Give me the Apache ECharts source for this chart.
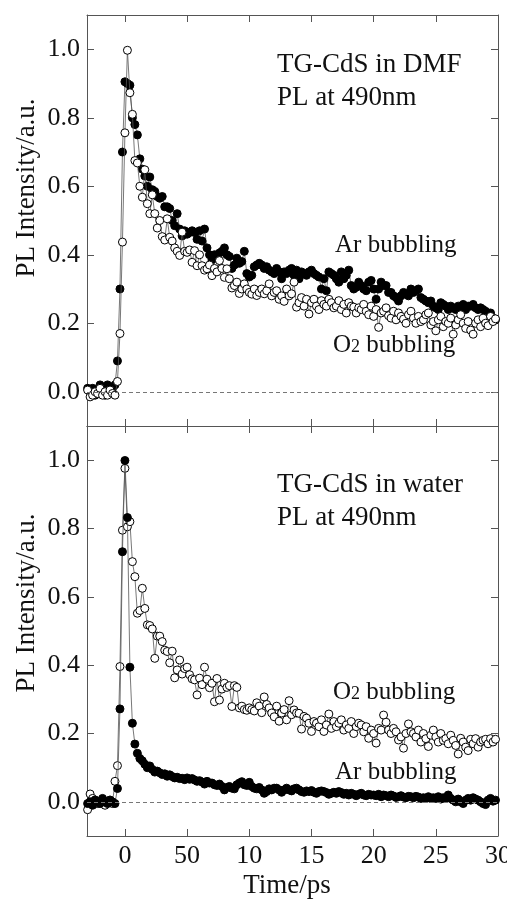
<!DOCTYPE html>
<html>
<head>
<meta charset="utf-8">
<script src="https://cdn.jsdelivr.net/npm/echarts@6/dist/echarts.min.js"></script>
<style>
html,body{margin:0;padding:0;background:#fff;}
#chart{width:507px;height:901px;}
</style>
</head>
<body>
<div id="chart"></div>
<script>
// Time axis (ps), shared by all four series
const timePs = [
  -3.0,-2.8,-2.6,-2.4,-2.2,-2.0,-1.8,-1.6,-1.4,-1.2,-1.0,-0.8,-0.6,-0.4,-0.2,
  0.0,0.2,0.4,0.6,0.8, 1.0,1.2,1.4,1.6,1.8, 2.0,2.2,2.4,2.6,2.8, 3.0,3.2,3.4,3.6,3.8,
  4.0,4.2,4.4,4.6,4.8, 5.0,5.2,5.4,5.6,5.8, 6.0,6.2,6.4,6.6,6.8, 7.0,7.2,7.4,7.6,7.8,
  8.0,8.2,8.4,8.6,8.8, 9.0,9.2,9.4,9.6,9.8, 10.0,10.2,10.4,10.6,10.8, 11.0,11.2,11.4,11.6,11.8,
  12.0,12.2,12.4,12.6,12.8, 13.0,13.2,13.4,13.6,13.8, 14.0,14.2,14.4,14.6,14.8, 15.0,15.2,15.4,15.6,15.8,
  16.0,16.2,16.4,16.6,16.8, 17.0,17.2,17.4,17.6,17.8, 18.0,18.2,18.4,18.6,18.8, 19.0,19.2,19.4,19.6,19.8,
  20.0,20.2,20.4,20.6,20.8, 21.0,21.2,21.4,21.6,21.8, 22.0,22.2,22.4,22.6,22.8, 23.0,23.2,23.4,23.6,23.8,
  24.0,24.2,24.4,24.6,24.8, 25.0,25.2,25.4,25.6,25.8, 26.0,26.2,26.4,26.6,26.8, 27.0,27.2,27.4,27.6,27.8,
  28.0,28.2,28.4,28.6,28.8, 29.0,29.2,29.4,29.6,29.8
];

// Top panel: TG-CdS in DMF
const dmfAr = [
  0.01,0.00,0.01,-0.01,0.00,0.02,0.01,-0.01,0.02,0.00,0.01,0.02,0.09,0.30,0.70,
  0.905,0.90,0.895,0.80,0.78, 0.75,0.68,0.65,0.63,0.60, 0.627,0.59,0.585,0.57,0.565, 0.57,0.54,0.54,0.535,0.50,
  0.485,0.52,0.475,0.455,0.47, 0.46,0.465,0.47,0.465,0.445, 0.47,0.44,0.475,0.42,0.40, 0.385,0.40,0.395,0.405,0.41,
  0.42,0.40,0.395,0.36,0.37, 0.39,0.375,0.38,0.41,0.345, 0.335,0.34,0.365,0.37,0.375, 0.37,0.36,0.365,0.355,0.35,
  0.345,0.36,0.35,0.33,0.35, 0.345,0.355,0.36,0.34,0.355, 0.33,0.35,0.345,0.34,0.35, 0.355,0.345,0.34,0.335,0.30,
  0.33,0.295,0.35,0.345,0.34, 0.33,0.32,0.35,0.33,0.34, 0.355,0.31,0.30,0.305,0.32, 0.31,0.30,0.295,0.32,0.325,
  0.30,0.27,0.30,0.32,0.31, 0.31,0.29,0.29,0.28,0.275, 0.265,0.28,0.29,0.285,0.28, 0.30,0.29,0.295,0.30,0.275,
  0.27,0.265,0.26,0.265,0.25, 0.245,0.24,0.26,0.255,0.25, 0.24,0.25,0.245,0.24,0.25, 0.245,0.255,0.24,0.25,0.25,
  0.255,0.245,0.24,0.245,0.24, 0.235,0.22,0.23,0.215,0.21
];
const dmfO2 = [
  0.005,-0.015,-0.01,0.00,-0.005,0.01,-0.01,0.00,-0.01,0.005,-0.005,-0.01,0.03,0.17,0.437,
  0.756,0.997,0.873,0.81,0.675, 0.668,0.60,0.568,0.648,0.549, 0.52,0.575,0.52,0.478,0.50, 0.453,0.443,0.505,0.451,0.44,
  0.42,0.41,0.398,0.466,0.41, 0.407,0.414,0.378,0.412,0.368, 0.40,0.368,0.355,0.359,0.37, 0.339,0.36,0.35,0.383,0.36,
  0.334,0.359,0.33,0.303,0.31, 0.32,0.287,0.30,0.315,0.30, 0.29,0.285,0.30,0.281,0.29, 0.30,0.286,0.295,0.315,0.28,
  0.29,0.295,0.27,0.28,0.264, 0.30,0.28,0.286,0.32,0.247, 0.26,0.275,0.25,0.27,0.227, 0.26,0.27,0.25,0.24,0.266,
  0.255,0.25,0.27,0.26,0.245, 0.25,0.266,0.24,0.255,0.23, 0.26,0.25,0.247,0.23,0.245, 0.24,0.255,0.235,0.225,0.25,
  0.22,0.24,0.188,0.23,0.235, 0.245,0.222,0.215,0.235,0.21, 0.23,0.22,0.212,0.20,0.225, 0.235,0.215,0.20,0.22,0.205,
  0.21,0.225,0.23,0.195,0.205, 0.178,0.21,0.22,0.19,0.205, 0.20,0.215,0.168,0.195,0.21, 0.225,0.20,0.185,0.205,0.18,
  0.168,0.20,0.21,0.19,0.215, 0.20,0.193,0.22,0.205,0.213
];

// Bottom panel: TG-CdS in water
const waterAr = [
  -0.005,0.00,-0.01,0.005,0.00,-0.005,0.01,0.00,-0.005,0.005,0.00,-0.005,0.039,0.272,0.732,
  0.999,0.832,0.394,0.23,0.169, 0.142,0.127,0.12,0.11,0.10, 0.105,0.095,0.087,0.09,0.085, 0.08,0.082,0.075,0.079,0.074,
  0.07,0.072,0.068,0.069,0.065, 0.07,0.066,0.068,0.064,0.06, 0.062,0.058,0.052,0.06,0.055, 0.055,0.05,0.048,0.052,0.045,
  0.035,0.042,0.045,0.04,0.038, 0.05,0.055,0.059,0.05,0.048, 0.057,0.045,0.04,0.038,0.042, 0.035,0.025,0.03,0.038,0.035,
  0.04,0.04,0.035,0.028,0.035, 0.04,0.035,0.032,0.038,0.04, 0.035,0.03,0.028,0.032,0.03, 0.033,0.028,0.025,0.03,0.032,
  0.03,0.027,0.022,0.025,0.028, 0.025,0.03,0.027,0.022,0.025, 0.02,0.025,0.022,0.018,0.022, 0.025,0.02,0.018,0.022,0.02,
  0.02,0.018,0.022,0.015,0.02, 0.018,0.015,0.02,0.017,0.013, 0.015,0.018,0.014,0.012,0.016, 0.015,0.012,0.016,0.014,0.01,
  0.012,0.01,0.015,0.01,0.012, 0.01,0.015,0.008,0.012,0.01, 0.02,0.01,0.005,0.0,0.008, 0.0,-0.005,0.005,0.01,0.005,
  0.012,0.008,0.005,0.0,-0.005, -0.008,0.005,0.01,0.002,0.005
];
const waterO2 = [
  -0.023,0.023,0.01,0.005,-0.005,0.00,0.005,-0.01,0.00,0.005,-0.005,0.06,0.106,0.396,0.795,
  0.976,0.805,0.82,0.703,0.659, 0.552,0.56,0.625,0.566,0.518, 0.516,0.506,0.42,0.485,0.485, 0.469,0.444,0.44,0.407,0.441,
  0.363,0.386,0.415,0.374,0.39, 0.394,0.372,0.36,0.357,0.313, 0.362,0.343,0.394,0.359,0.334, 0.347,0.293,0.361,0.298,0.33,
  0.347,0.335,0.34,0.279,0.34, 0.335,0.275,0.28,0.27,0.268, 0.275,0.27,0.266,0.29,0.28, 0.261,0.307,0.285,0.275,0.26,
  0.249,0.28,0.236,0.26,0.27, 0.24,0.296,0.255,0.269,0.26, 0.259,0.213,0.25,0.245,0.23, 0.206,0.235,0.23,0.22,0.24,
  0.206,0.225,0.257,0.215,0.235, 0.22,0.23,0.24,0.21,0.225, 0.215,0.235,0.2,0.22,0.23, 0.225,0.205,0.22,0.186,0.21,
  0.2,0.172,0.215,0.21,0.254, 0.233,0.21,0.2,0.215,0.205, 0.181,0.19,0.157,0.2,0.228, 0.205,0.2,0.19,0.21,0.175,
  0.2,0.185,0.162,0.195,0.21, 0.19,0.175,0.2,0.18,0.185, 0.17,0.195,0.18,0.165,0.14, 0.186,0.175,0.16,0.15,0.183,
  0.17,0.185,0.16,0.175,0.18, 0.183,0.17,0.185,0.175,0.183
];

// Tick values and labels
const xTickValues = [0, 5, 10, 15, 20, 25, 30];
const xTickLabels = ['0', '50', '10', '15', '20', '25', '30'];
const yTickValues = [0, 0.2, 0.4, 0.6, 0.8, 1.0];
const yTickLabels = ['0.0', '0.2', '0.4', '0.6', '0.8', '1.0'];

const FONT = '"Liberation Serif", "Times New Roman", serif';
const AX = '#555';

function pairs(arr) { return timePs.map((t, i) => [t, arr[i]]); }

function xAxis(gridIndex, position, labels) {
  return {
    type: 'value', gridIndex, position, min: -3.05, max: 30,
    axisLine: { show: true, onZero: false, lineStyle: { color: AX, width: 1 } },
    axisTick: { show: true, inside: true, length: 7, customValues: xTickValues, lineStyle: { color: AX, width: 1 } },
    axisLabel: {
      show: labels, customValues: xTickValues, margin: 7, showMaxLabel: true, showMinLabel: true,
      fontFamily: FONT, fontSize: 26, color: '#111',
      formatter: v => { const k = xTickValues.indexOf(v); return k >= 0 ? xTickLabels[k] : ''; }
    },
    splitLine: { show: false }
  };
}
function yAxis(gridIndex, position, labels) {
  return {
    type: 'value', gridIndex, position, min: -0.1, max: 1.1,
    axisLine: { show: true, onZero: false, lineStyle: { color: AX, width: 1 } },
    axisTick: { show: true, inside: true, length: 7, customValues: yTickValues, lineStyle: { color: AX, width: 1 } },
    axisLabel: {
      show: labels, customValues: yTickValues, margin: 7,
      fontFamily: FONT, fontSize: 26, color: '#111',
      formatter: v => { const k = yTickValues.findIndex(t => Math.abs(t - v) < 1e-9); return k >= 0 ? yTickLabels[k] : ''; }
    },
    splitLine: { show: false }
  };
}
function dataSeries(name, arr, xi, yi, filled, z) {
  return {
    name, type: 'line', xAxisIndex: xi, yAxisIndex: yi, z,
    data: pairs(arr), symbol: 'circle', symbolSize: 8, showAllSymbol: true,
    lineStyle: { color: '#555', width: 0.8 },
    itemStyle: { color: filled ? '#000' : '#fff', borderColor: '#000', borderWidth: 1 },
    silent: true, animation: false
  };
}
function zeroLine(xi, yi) {
  return {
    type: 'line', xAxisIndex: xi, yAxisIndex: yi, z: 1, data: [], silent: true, animation: false,
    markLine: {
      silent: true, symbol: ['none', 'none'], label: { show: false }, animation: false,
      lineStyle: { color: '#777', width: 1, type: [4, 3] },
      data: [{ yAxis: 0 }]
    }
  };
}
function txt(x, y, text, size, align, rot) {
  return {
    type: 'text', x, y, rotation: rot || 0, silent: true,
    style: { text, font: size + 'px ' + FONT, fill: '#111', align: align, verticalAlign: 'middle',
             textAlign: align, textVerticalAlign: 'middle' }
  };
}
function o2Label(x, y) {
  return {
    type: 'text', x, y, silent: true,
    style: {
      text: '{a|O}{s|2}{a| bubbling}', fill: '#111', align: 'left', verticalAlign: 'middle',
      textAlign: 'left', textVerticalAlign: 'middle',
      rich: {
        a: { fontFamily: FONT, fontSize: 25, fill: '#111', color: '#111' },
        s: { fontFamily: FONT, fontSize: 18, fill: '#111', color: '#111', verticalAlign: 'bottom', padding: [0, 0, 1, 0] }
      }
    }
  };
}

const chart = echarts.init(document.getElementById('chart'), null, { renderer: 'canvas' });
chart.setOption({
  backgroundColor: '#fff',
  animation: false,
  grid: [
    { left: 87, top: 15, width: 411, height: 411, outerBoundsMode: 'none', containLabel: false },
    { left: 87, top: 426, width: 411, height: 410, outerBoundsMode: 'none', containLabel: false }
  ],
  xAxis: [xAxis(0, 'bottom', false), xAxis(0, 'top', false), xAxis(1, 'bottom', true), xAxis(1, 'top', false)],
  yAxis: [yAxis(0, 'left', true), yAxis(0, 'right', false), yAxis(1, 'left', true), yAxis(1, 'right', false)],
  series: [
    zeroLine(0, 0),
    dataSeries('Ar bubbling (DMF)', dmfAr, 0, 0, true, 2),
    dataSeries('O2 bubbling (DMF)', dmfO2, 0, 0, false, 3),
    zeroLine(2, 2),
    dataSeries('O2 bubbling (water)', waterO2, 2, 2, false, 2),
    dataSeries('Ar bubbling (water)', waterAr, 2, 2, true, 3)
  ],
  graphic: [
    txt(27, 188, 'PL Intensity/a.u.', 27, 'center', Math.PI / 2),
    txt(27, 603, 'PL Intensity/a.u.', 27, 'center', Math.PI / 2),
    txt(287, 886, 'Time/ps', 27, 'center'),
    txt(277, 65, 'TG-CdS in DMF', 27, 'left'),
    txt(277, 98, 'PL at 490nm', 27, 'left'),
    txt(335, 245, 'Ar bubbling', 25, 'left'),
    o2Label(333, 345),
    txt(277, 485, 'TG-CdS in water', 27, 'left'),
    txt(277, 518, 'PL at 490nm', 27, 'left'),
    o2Label(333, 692),
    txt(335, 772, 'Ar bubbling', 25, 'left')
  ]
});
</script>
</body>
</html>
